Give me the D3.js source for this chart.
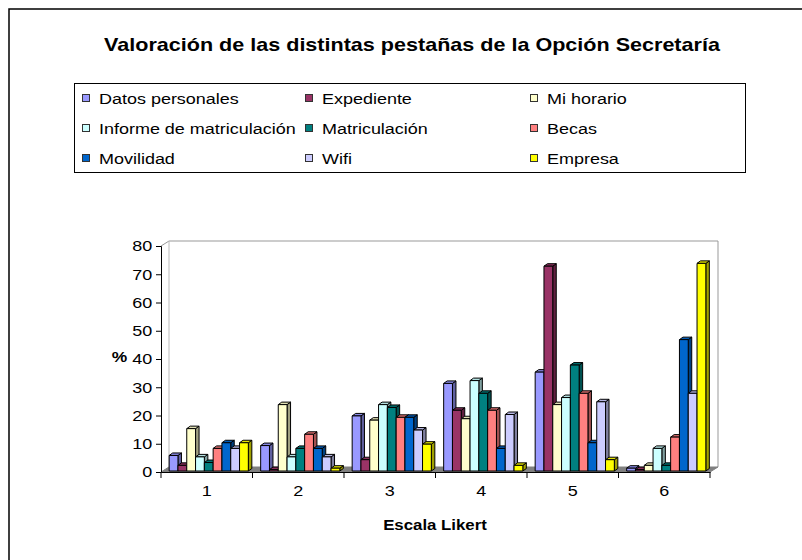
<!DOCTYPE html>
<html>
<head>
<meta charset="utf-8">
<script src="https://cdn.jsdelivr.net/npm/d3@7"></script>
<style>
  body { margin: 0; background: #fff; }
  svg { display: block; font-family: "Liberation Sans", Arial, sans-serif; }
</style>
</head>
<body>
<div id="chart"></div>
<script>
// Valoración de las pestañas - 3D clustered columns
const categories = ['1', '2', '3', '4', '5', '6'];
const series = ['Datos personales', 'Expediente', 'Mi horario', 'Informe de matriculación',
  'Matriculación', 'Becas', 'Movilidad', 'Wifi', 'Empresa'];
const colors = ['#9999ff', '#993366', '#ffffcc', '#ccffff', '#008080', '#ff8080', '#0066cc', '#ccccff', '#ffff00'];

// one array per series, values for Likert 1..6 (%)
const datosPersonales = [5.5, 9, 19.5, 31, 35, 1];
const expediente = [2, 0.5, 4, 21.5, 72.5, 0.5];
const miHorario = [15, 23.5, 18, 18.5, 23.5, 2];
const informeMatric = [5, 5, 23.5, 32, 26, 8];
const matriculacion = [3, 8, 22.5, 27.5, 37.5, 2];
const becas = [8, 13, 19, 21.5, 27.5, 12];
const movilidad = [10, 8, 19, 8, 10, 46.5];
const wifi = [8, 5, 14.5, 20, 24.5, 27.5];
const empresa = [10, 1, 9.5, 2, 4, 73.5];

const values = [datosPersonales, expediente, miHorario, informeMatric, matriculacion,
  becas, movilidad, wifi, empresa];
const yTicks = [0, 10, 20, 30, 40, 50, 60, 70, 80];

const W = 802, H = 560;
const SX = 1.16; // the reference text is a little wide
const svg = d3.select('#chart').append('svg').attr('width', W).attr('height', H);

function label(x, y, str, size, bold, anchor) {
  return svg.append('text')
    .attr('transform', `translate(${x},${y}) scale(${SX},1)`)
    .attr('text-anchor', anchor || 'start')
    .attr('font-size', size + 'px')
    .attr('font-weight', bold ? 'bold' : null)
    .text(str);
}

// outer frame (runs off the right and bottom edges)
svg.append('path')
  .attr('d', `M9,${H + 5}V9H${W + 5}`)
  .attr('fill', 'none').attr('stroke', '#000').attr('stroke-width', 1.5);

label(412, 51, 'Valoración de las distintas pestañas de la Opción Secretaría', 18.6, true, 'middle');

// legend
svg.append('rect').attr('x', 74.5).attr('y', 83.5).attr('width', 671).attr('height', 89)
  .attr('fill', '#fff').attr('stroke', '#000').attr('stroke-width', 1);
const legCols = [82, 305, 530];
series.forEach((s, i) => {
  const cx = legCols[i % 3], cy = 98 + Math.floor(i / 3) * 30;
  svg.append('rect').attr('x', cx + 0.5).attr('y', cy - 3.5).attr('width', 7).attr('height', 7)
    .attr('fill', colors[i]).attr('stroke', '#333').attr('stroke-width', 1);
  label(cx + 17, cy + 5.5, s, 15.5);
});

// plot frame
const left = 161, right = 710, bottom = 472;
const dx = 8, dy = -5;
const y = d3.scaleLinear().domain([0, 80]).range([bottom, 246]);
const x0 = d3.scaleBand().domain(categories).range([left, right]);
const x1 = d3.scaleBand().domain(series).range([0, x0.bandwidth()]).paddingOuter(0.7);

const plot = svg.append('g');
// walls
plot.append('path')
  .attr('d', `M${left},${y(80)}L${left + dx},${y(80) + dy}H${right + dx}V${bottom + dy}`)
  .attr('fill', 'none').attr('stroke', '#999').attr('stroke-width', 1);
plot.append('line')
  .attr('x1', left + dx).attr('x2', left + dx).attr('y1', y(80) + dy).attr('y2', bottom + dy)
  .attr('stroke', '#bbb');
// floor
plot.append('path')
  .attr('d', `M${left},${bottom}L${left + dx},${bottom + dy}H${right + dx}L${right},${bottom}Z`)
  .attr('fill', '#808080').attr('stroke', '#808080');

// bars, drawn left to right so later fronts hide earlier sides
const bdx = 3.5, bdy = -2.5, bw = x1.bandwidth();
const y0 = bottom - 1;
const bars = plot.append('g').attr('transform', 'translate(2,0)');
categories.forEach((c, ci) => {
  series.forEach((s, si) => {
    const v = values[si][ci];
    const bx = x0(c) + x1(s);
    const by = y(v) - 1;
    const col = d3.color(colors[si]);
    const g = bars.append('g').attr('stroke', '#000').attr('stroke-width', 1).attr('stroke-linejoin', 'round');
    g.append('path')
      .attr('d', `M${bx + bw},${by}L${bx + bw + bdx},${by + bdy}V${y0 + bdy}L${bx + bw},${y0}Z`)
      .attr('fill', col.darker(1.3));
    g.append('path')
      .attr('d', `M${bx},${by}L${bx + bdx},${by + bdy}H${bx + bw + bdx}L${bx + bw},${by}Z`)
      .attr('fill', col.darker(0.35));
    g.append('rect')
      .attr('x', bx).attr('y', by).attr('width', bw).attr('height', Math.max(0, y0 - by))
      .attr('fill', colors[si]);
  });
});

// y axis
const yAxis = plot.append('g').attr('transform', `translate(${left},0)`)
  .call(d3.axisLeft(y).tickValues(yTicks).tickSize(5).tickPadding(2.5));
yAxis.select('.domain').attr('stroke', '#000');
yAxis.selectAll('text').attr('font-size', '15.5px').attr('fill', '#000').attr('font-family', null)
  .attr('transform', `scale(${SX},1)`);

// x axis
const xAxis = plot.append('g').attr('transform', `translate(0,${bottom})`)
  .call(d3.axisBottom(x0).tickSize(0).tickPadding(13));
xAxis.select('.domain').attr('stroke', '#000');
xAxis.selectAll('text').attr('font-size', '15.5px').attr('fill', '#000').attr('font-family', null)
  .attr('transform', `scale(${SX},1)`);
xAxis.selectAll('.sep').data(x0.domain().map(c => x0(c)).concat([right]))
  .join('line').attr('class', 'sep')
  .attr('x1', d => d).attr('x2', d => d).attr('y1', 0).attr('y2', 6)
  .attr('stroke', '#000');

label(119.5, 362, '%', 15, true, 'middle');
label(435, 530, 'Escala Likert', 14.5, true, 'middle');
</script>
</body>
</html>
